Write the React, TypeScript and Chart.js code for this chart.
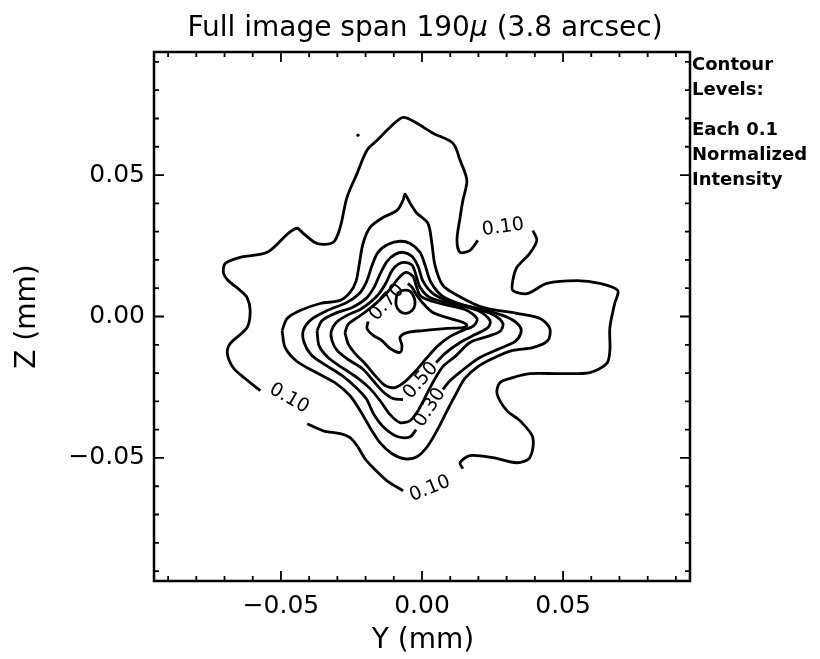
import React, { useEffect, useRef } from 'react';
import { Chart, registerables } from 'chart.js';

Chart.register(...registerables);

const FONT = '"DejaVu Sans", "Liberation Sans", sans-serif';

// Axis ranges (mm) and ticks
const xRange = [-0.095, 0.095];
const yRange = [-0.0935, 0.0935];
const majorTickValues = [-0.05, 0, 0.05];
const minorTickValues = [-0.09, -0.08, -0.07, -0.06, -0.05, -0.04, -0.03, -0.02, -0.01, 0, 0.01, 0.02, 0.03, 0.04, 0.05, 0.06, 0.07, 0.08, 0.09];
const tickLabels = ['\u22120.05', '0.00', '0.05'];

const titleParts = ['Full image span 190', '\u03bc', ' (3.8 arcsec)'];
const xTitle = 'Y (mm)';
const yTitle = 'Z (mm)';
const noteLines = ['Contour', 'Levels:', 'Each 0.1', 'Normalized', 'Intensity'];

// Contour 0.10 (split by labels)
const contour010A = [[-0.0407,-0.0379],[-0.0350,-0.0404],[-0.0290,-0.0414],[-0.0255,-0.0428],[-0.0230,-0.0457],[-0.0202,-0.0503],[-0.0173,-0.0535],[-0.0124,-0.0581],[-0.0067,-0.0616]];
const contour010B = [[-0.0573,-0.0262],[-0.0627,-0.0219],[-0.0669,-0.0181],[-0.0690,-0.0131],[-0.0680,-0.0096],[-0.0620,-0.0039],[-0.0609,0.0021],[-0.0620,0.0067],[-0.0644,0.0092],[-0.0687,0.0127],[-0.0704,0.0156],[-0.0697,0.0188],[-0.0644,0.0209],[-0.0549,0.0227],[-0.0474,0.0294],[-0.0443,0.0312],[-0.0421,0.0294],[-0.0372,0.0258],[-0.0315,0.0262],[-0.0290,0.0315],[-0.0266,0.0421],[-0.0230,0.0506],[-0.0195,0.0588],[-0.0159,0.0623],[-0.0113,0.0669],[-0.0067,0.0704],[-0.0018,0.0683],[0.0039,0.0648],[0.0110,0.0612],[0.0135,0.0552],[0.0159,0.0481],[0.0145,0.0411],[0.0135,0.0350],[0.0124,0.0269],[0.0135,0.0227],[0.0170,0.0234],[0.0198,0.0269]];
const contour010C = [[0.0393,0.0304],[0.0407,0.0269],[0.0382,0.0223],[0.0336,0.0173],[0.0322,0.0127],[0.0322,0.0092],[0.0372,0.0081],[0.0443,0.0117],[0.0549,0.0127],[0.0630,0.0117],[0.0694,0.0092],[0.0683,0.0046],[0.0666,-0.0039],[0.0666,-0.0120],[0.0655,-0.0166],[0.0595,-0.0198],[0.0489,-0.0202],[0.0382,-0.0202],[0.0322,-0.0216],[0.0276,-0.0234],[0.0266,-0.0273],[0.0301,-0.0333],[0.0347,-0.0368],[0.0393,-0.0428],[0.0382,-0.0499],[0.0336,-0.0517],[0.0251,-0.0499],[0.0170,-0.0492],[0.0135,-0.0517],[0.0145,-0.0538]];
const contour020 = [[-0.0496,-0.0050],[-0.0478,-0.0007],[-0.0432,0.0021],[-0.0361,0.0046],[-0.0290,0.0057],[-0.0255,0.0085],[-0.0234,0.0124],[-0.0223,0.0181],[-0.0209,0.0258],[-0.0184,0.0315],[-0.0138,0.0350],[-0.0089,0.0375],[-0.0067,0.0411],[-0.0060,0.0432],[-0.0042,0.0400],[-0.0018,0.0365],[0.0021,0.0329],[0.0035,0.0258],[0.0046,0.0181],[0.0074,0.0110],[0.0127,0.0074],[0.0216,0.0032],[0.0336,0.0011],[0.0418,-0.0007],[0.0453,-0.0042],[0.0446,-0.0085],[0.0393,-0.0110],[0.0322,-0.0120],[0.0258,-0.0145],[0.0198,-0.0177],[0.0152,-0.0219],[0.0117,-0.0280],[0.0089,-0.0333],[0.0057,-0.0396],[0.0021,-0.0457],[-0.0018,-0.0496],[-0.0060,-0.0503],[-0.0106,-0.0485],[-0.0149,-0.0446],[-0.0184,-0.0393],[-0.0219,-0.0333],[-0.0255,-0.0280],[-0.0304,-0.0237],[-0.0375,-0.0198],[-0.0443,-0.0159],[-0.0485,-0.0110],[-0.0496,-0.0050]];
const contour030 = [[0.0074,-0.0258],[0.0099,-0.0227],[0.0142,-0.0191],[0.0205,-0.0145],[0.0276,-0.0113],[0.0329,-0.0089],[0.0350,-0.0060],[0.0347,-0.0035],[0.0312,-0.0007],[0.0241,0.0018],[0.0142,0.0042],[0.0074,0.0071],[0.0032,0.0120],[0.0011,0.0181],[-0.0007,0.0227],[-0.0042,0.0258],[-0.0078,0.0266],[-0.0120,0.0255],[-0.0156,0.0227],[-0.0177,0.0181],[-0.0195,0.0127],[-0.0219,0.0085],[-0.0266,0.0050],[-0.0336,0.0021],[-0.0393,-0.0011],[-0.0421,-0.0050],[-0.0418,-0.0092],[-0.0393,-0.0135],[-0.0340,-0.0173],[-0.0283,-0.0209],[-0.0237,-0.0248],[-0.0198,-0.0290],[-0.0170,-0.0347],[-0.0131,-0.0396],[-0.0085,-0.0425],[-0.0042,-0.0425],[-0.0021,-0.0400]];
const contour040 = [[-0.0372,-0.0050],[-0.0354,-0.0014],[-0.0308,0.0011],[-0.0248,0.0032],[-0.0198,0.0064],[-0.0170,0.0103],[-0.0149,0.0149],[-0.0124,0.0195],[-0.0096,0.0219],[-0.0067,0.0227],[-0.0035,0.0212],[-0.0014,0.0177],[0.0004,0.0124],[0.0039,0.0081],[0.0099,0.0053],[0.0177,0.0032],[0.0251,0.0007],[0.0287,-0.0025],[0.0276,-0.0053],[0.0230,-0.0071],[0.0170,-0.0092],[0.0117,-0.0142],[0.0074,-0.0177],[0.0042,-0.0227],[0.0014,-0.0280],[-0.0014,-0.0333],[-0.0042,-0.0368],[-0.0078,-0.0375],[-0.0113,-0.0347],[-0.0149,-0.0297],[-0.0184,-0.0255],[-0.0230,-0.0216],[-0.0283,-0.0181],[-0.0333,-0.0145],[-0.0365,-0.0103],[-0.0372,-0.0050]];
const contour050 = [[0.0050,-0.0163],[0.0081,-0.0131],[0.0135,-0.0092],[0.0188,-0.0064],[0.0234,-0.0039],[0.0241,-0.0014],[0.0198,0.0021],[0.0117,0.0042],[0.0028,0.0067],[-0.0007,0.0103],[-0.0021,0.0145],[-0.0035,0.0181],[-0.0064,0.0191],[-0.0085,0.0184],[-0.0106,0.0163],[-0.0127,0.0120],[-0.0152,0.0081],[-0.0184,0.0050],[-0.0219,0.0025],[-0.0266,0.0004],[-0.0304,-0.0021],[-0.0322,-0.0053],[-0.0319,-0.0085],[-0.0301,-0.0120],[-0.0262,-0.0152],[-0.0212,-0.0184],[-0.0173,-0.0227],[-0.0138,-0.0266],[-0.0103,-0.0290],[-0.0067,-0.0294]];
const contour060 = [[-0.0273,-0.0057],[-0.0262,-0.0028],[-0.0234,-0.0007],[-0.0198,0.0018],[-0.0159,0.0050],[-0.0127,0.0081],[-0.0103,0.0110],[-0.0081,0.0138],[-0.0057,0.0156],[-0.0032,0.0142],[-0.0021,0.0110],[-0.0004,0.0071],[0.0064,0.0046],[0.0152,0.0025],[0.0195,-0.0007],[0.0184,-0.0032],[0.0142,-0.0050],[0.0099,-0.0071],[0.0057,-0.0103],[0.0018,-0.0145],[-0.0021,-0.0191],[-0.0060,-0.0230],[-0.0096,-0.0251],[-0.0131,-0.0244],[-0.0166,-0.0209],[-0.0202,-0.0166],[-0.0237,-0.0131],[-0.0262,-0.0096],[-0.0273,-0.0057]];
const contour070 = [[-0.0191,-0.0018],[-0.0195,-0.0042],[-0.0173,-0.0067],[-0.0142,-0.0085],[-0.0113,-0.0113],[-0.0078,-0.0127],[-0.0071,-0.0103],[-0.0078,-0.0074],[-0.0053,-0.0057],[0.0004,-0.0050],[0.0089,-0.0042],[0.0145,-0.0039],[0.0159,-0.0032],[0.0145,-0.0021],[0.0099,-0.0007],[0.0039,0.0014],[0.0004,0.0046],[-0.0018,0.0074],[-0.0035,0.0103],[-0.0050,0.0117]];
const contour080 = [[-0.0089,0.0081],[-0.0067,0.0092],[-0.0042,0.0089],[-0.0028,0.0067],[-0.0025,0.0042],[-0.0035,0.0021],[-0.0057,0.0011],[-0.0078,0.0018],[-0.0092,0.0042],[-0.0089,0.0081]];
const specks = [[-0.0227, 0.0641]];

// Contour labels
const labelTexts = ['0.10', '0.10', '0.10', '0.70', '0.50', '0.30'];
const labelX = [0.0287, -0.0471, 0.0028, -0.0124, -0.0004, 0.0028];
const labelY = [0.0315, -0.0290, -0.0609, 0.0050, -0.0227, -0.0322];
const labelAngles = [-8, 30, -22, -48, -48, -57];

const contourSegments = [contour010A, contour010B, contour010C, contour020, contour030, contour040, contour050, contour060, contour070, contour080];

const decorPlugin = {
  id: 'decor',
  afterDraw(chart: any) {
    const { ctx, chartArea: a, scales } = chart;
    const xs = scales.x;
    const ys = scales.y;
    ctx.save();
    ctx.strokeStyle = '#000';
    ctx.fillStyle = '#000';
    // frame
    ctx.lineWidth = 2.5;
    ctx.strokeRect(a.left, a.top, a.right - a.left, a.bottom - a.top);
    // inward ticks on four sides
    ctx.lineWidth = 1.8;
    ctx.beginPath();
    for (const v of minorTickValues) {
      const isMajor = majorTickValues.some((m) => Math.abs(m - v) < 1e-9);
      const len = isMajor ? 10 : 5;
      const px = xs.getPixelForValue(v);
      ctx.moveTo(px, a.bottom); ctx.lineTo(px, a.bottom - len);
      ctx.moveTo(px, a.top); ctx.lineTo(px, a.top + len);
      const py = ys.getPixelForValue(v);
      ctx.moveTo(a.left, py); ctx.lineTo(a.left + len, py);
      ctx.moveTo(a.right, py); ctx.lineTo(a.right - len, py);
    }
    ctx.stroke();

    // contour labels
    ctx.font = `19px ${FONT}`;
    ctx.textAlign = 'center';
    ctx.textBaseline = 'middle';
    labelTexts.forEach((t, i) => {
      ctx.save();
      ctx.translate(xs.getPixelForValue(labelX[i]), ys.getPixelForValue(labelY[i]));
      ctx.rotate((labelAngles[i] * Math.PI) / 180);
      ctx.fillText(t, 0, 0);
      ctx.restore();
    });

    // title with italic mu
    const fonts = [`28px ${FONT}`, `italic 28px ${FONT}`, `28px ${FONT}`];
    let total = 0;
    const widths = titleParts.map((p, i) => { ctx.font = fonts[i]; const w = ctx.measureText(p).width; total += w; return w; });
    let tx = (a.left + a.right) / 2 + 3 - total / 2;
    ctx.textAlign = 'left';
    ctx.textBaseline = 'alphabetic';
    titleParts.forEach((p, i) => { ctx.font = fonts[i]; ctx.fillText(p, tx, 36); tx += widths[i]; });

    // axis titles
    ctx.font = `28px ${FONT}`;
    ctx.textAlign = 'center';
    ctx.textBaseline = 'middle';
    ctx.fillText(xTitle, (a.left + a.right) / 2 + 1, 641);
    ctx.save();
    ctx.translate(28, (a.top + a.bottom) / 2);
    ctx.rotate(-Math.PI / 2);
    ctx.fillText(yTitle, 0, 0);
    ctx.restore();

    // right-side note
    ctx.font = `bold 18px ${FONT}`;
    ctx.textAlign = 'left';
    ctx.textBaseline = 'alphabetic';
    const baselines = [70, 95, 135, 160, 185];
    noteLines.forEach((t, i) => ctx.fillText(t, a.right + 2, baselines[i]));
    ctx.restore();
  },
};

export default function App() {
  const ref = useRef<HTMLCanvasElement | null>(null);
  useEffect(() => {
    if (!ref.current) return;
    const datasets: any[] = contourSegments.map((seg) => ({
      data: seg.map(([x, y]) => ({ x, y })),
      showLine: true,
      borderColor: '#000',
      borderWidth: 2.8,
      pointRadius: 0,
      tension: 0.3,
      fill: false,
    }));
    datasets.push({
      data: specks.map(([x, y]) => ({ x, y })),
      showLine: false,
      pointRadius: 1.6,
      pointBackgroundColor: '#000',
      pointBorderWidth: 0,
    });
    const chart = new Chart(ref.current, {
      type: 'scatter',
      data: { datasets },
      options: {
        animation: false,
        responsive: false,
        devicePixelRatio: 1,
        layout: { padding: { top: 52, right: 130, left: 0, bottom: 0 } },
        plugins: { legend: { display: false }, tooltip: { enabled: false }, title: { display: false } },
        scales: {
          x: {
            type: 'linear',
            min: xRange[0],
            max: xRange[1],
            grid: { display: false, drawTicks: false },
            border: { display: false },
            ticks: {
              color: '#000',
              font: { family: FONT, size: 25 },
              padding: 10,
              maxRotation: 0,
              autoSkip: false,
              callback: (v: any) => tickLabels[majorTickValues.findIndex((m) => Math.abs(m - v) < 1e-9)] ?? '',
            },
            afterBuildTicks: (s: any) => { s.ticks = majorTickValues.map((v) => ({ value: v })); },
            afterFit: (s: any) => { s.height = 78; },
          },
          y: {
            type: 'linear',
            min: yRange[0],
            max: yRange[1],
            grid: { display: false, drawTicks: false },
            border: { display: false },
            ticks: {
              color: '#000',
              font: { family: FONT, size: 25 },
              padding: 9,
              autoSkip: false,
              callback: (v: any) => tickLabels[majorTickValues.findIndex((m) => Math.abs(m - v) < 1e-9)] ?? '',
            },
            afterBuildTicks: (s: any) => { s.ticks = majorTickValues.map((v) => ({ value: v })); },
            afterFit: (s: any) => { s.width = 154; },
          },
        },
      },
      plugins: [decorPlugin],
    });
    return () => chart.destroy();
  }, []);
  return (
    <div style={{ position: 'absolute', left: 0, top: 0, width: 820, height: 659, background: '#fff' }}>
      <canvas ref={ref} width={820} height={659} />
    </div>
  );
}
